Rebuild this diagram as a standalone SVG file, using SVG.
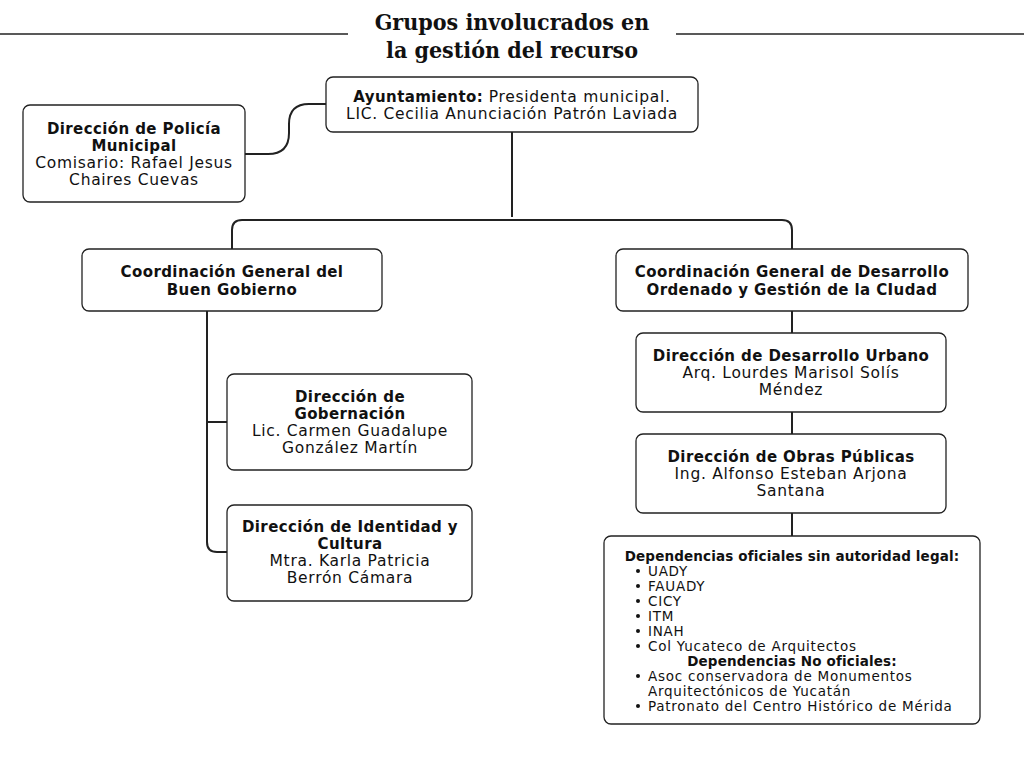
<svg xmlns="http://www.w3.org/2000/svg" width="1024" height="768" viewBox="0 0 1024 768">
<style>
.box{fill:#fff;stroke:#222;stroke-width:1.3}
.t{font-family:"DejaVu Sans",sans-serif;font-size:15.5px;fill:#111;text-anchor:middle;letter-spacing:0.7px}
.b{font-weight:bold;font-size:15px;letter-spacing:0.4px}
.s{font-family:"DejaVu Sans",sans-serif;font-size:13.5px;fill:#111;letter-spacing:0.75px}
.sb{font-family:"DejaVu Sans",sans-serif;font-size:13.5px;fill:#111;font-weight:bold;letter-spacing:0.15px;text-anchor:middle}
.c{fill:none;stroke:#222;stroke-width:2}
.title{font-family:"DejaVu Serif Condensed","DejaVu Serif",serif;font-size:23px;font-weight:bold;fill:#111;text-anchor:middle}
</style>
<rect width="1024" height="768" fill="#fff"/>
<g id="title">
<line x1="0" y1="34" x2="348" y2="34" stroke="#222" stroke-width="1.3"/>
<line x1="676" y1="34" x2="1024" y2="34" stroke="#222" stroke-width="1.3"/>
<text class="title" x="512" y="30">Grupos involucrados en</text>
<text class="title" x="512" y="58">la gestión del recurso</text>
</g>
<g id="connectors">
<path class="c" d="M245,154 H268 Q289,154 289,133 V124 Q289,104 309,104 H326"/>
<path class="c" d="M512,132 V217"/>
<path class="c" d="M232,249 V230 Q232,220 242,220 H782 Q792,220 792,230 V249"/>
<path class="c" d="M207,311 V542 Q207,552 217,552 H227"/>
<path class="c" d="M207,422 H227"/>
<path class="c" d="M792,311 V333"/>
<path class="c" d="M792,412 V434"/>
<path class="c" d="M792,513 V536"/>
</g>
<g id="ayuntamiento">
<rect class="box" x="326" y="77" width="372" height="55" rx="7"/>
<text class="t" x="512" y="102"><tspan class="b">Ayuntamiento:</tspan> Presidenta municipal.</text>
<text class="t" x="512" y="119">LIC. Cecilia Anunciación Patrón Laviada</text>
</g>
<g id="policia">
<rect class="box" x="23" y="105" width="222" height="97" rx="7"/>
<text class="t b" x="134" y="134">Dirección de Policía</text>
<text class="t b" x="134" y="151">Municipal</text>
<text class="t" x="134" y="168">Comisario: Rafael Jesus</text>
<text class="t" x="134" y="185">Chaires Cuevas</text>
</g>
<g id="coord-buen-gobierno">
<rect class="box" x="82" y="249" width="300" height="62" rx="7"/>
<text class="t b" x="232" y="277">Coordinación General del</text>
<text class="t b" x="232" y="295">Buen Gobierno</text>
</g>
<g id="coord-desarrollo">
<rect class="box" x="616" y="249" width="352" height="62" rx="7"/>
<text class="t b" x="792" y="277">Coordinación General de Desarrollo</text>
<text class="t b" x="792" y="295">Ordenado y Gestión de la CIudad</text>
</g>
<g id="gobernacion">
<rect class="box" x="227" y="374" width="245" height="96" rx="7"/>
<text class="t b" x="350" y="402">Dirección de</text>
<text class="t b" x="350" y="419">Gobernación</text>
<text class="t" x="350" y="436">Lic. Carmen Guadalupe</text>
<text class="t" x="350" y="453">González Martín</text>
</g>
<g id="identidad">
<rect class="box" x="227" y="505" width="245" height="96" rx="7"/>
<text class="t b" x="350" y="532">Dirección de Identidad y</text>
<text class="t b" x="350" y="549">Cultura</text>
<text class="t" x="350" y="566">Mtra. Karla Patricia</text>
<text class="t" x="350" y="583">Berrón Cámara</text>
</g>
<g id="desarrollo-urbano">
<rect class="box" x="636" y="333" width="310" height="79" rx="7"/>
<text class="t b" x="791" y="361">Dirección de Desarrollo Urbano</text>
<text class="t" x="791" y="378">Arq. Lourdes Marisol Solís</text>
<text class="t" x="791" y="395">Méndez</text>
</g>
<g id="obras-publicas">
<rect class="box" x="636" y="434" width="310" height="79" rx="7"/>
<text class="t b" x="791" y="462">Dirección de Obras Públicas</text>
<text class="t" x="791" y="479">Ing. Alfonso Esteban Arjona</text>
<text class="t" x="791" y="496">Santana</text>
</g>
<g id="dependencias">
<rect class="box" x="604" y="536" width="376" height="188" rx="7"/>
<text class="sb" x="792" y="561">Dependencias oficiales sin autoridad legal:</text>
<text class="s" x="648" y="576">UADY</text>
<text class="s" x="648" y="591">FAUADY</text>
<text class="s" x="648" y="606">CICY</text>
<text class="s" x="648" y="621">ITM</text>
<text class="s" x="648" y="636">INAH</text>
<text class="s" x="648" y="651">Col Yucateco de Arquitectos</text>
<text class="sb" x="792" y="666">Dependencias No oficiales:</text>
<text class="s" x="648" y="681">Asoc conservadora de Monumentos</text>
<text class="s" x="648" y="696">Arquitectónicos de Yucatán</text>
<text class="s" x="648" y="711">Patronato del Centro Histórico de Mérida</text>
<g fill="#111">
<circle cx="638" cy="571" r="2"/>
<circle cx="638" cy="586" r="2"/>
<circle cx="638" cy="601" r="2"/>
<circle cx="638" cy="616" r="2"/>
<circle cx="638" cy="631" r="2"/>
<circle cx="638" cy="646" r="2"/>
<circle cx="638" cy="676" r="2"/>
<circle cx="638" cy="706" r="2"/>
</g>
</g>
</svg>
